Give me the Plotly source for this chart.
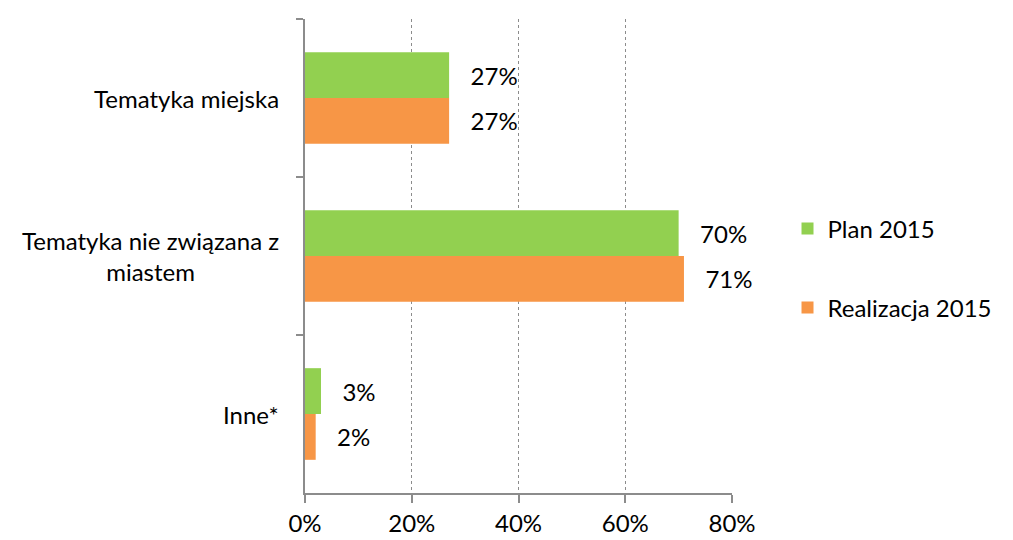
import plotly.graph_objects as go

categories = ["Tematyka miejska", "Tematyka nie związana z<br>miastem", "Inne*"]
plan_2015 = [27, 70, 3]
realizacja_2015 = [27, 71, 2]
x_ticks = [0, 20, 40, 60, 80]
x_tick_labels = ["0%", "20%", "40%", "60%", "80%"]

FONT = "Lato"
FS = 24
GREEN = "#92D050"
ORANGE = "#F79646"

fig = go.Figure()
fig.add_trace(go.Bar(
    y=categories, x=plan_2015, orientation="h", name="Plan 2015",
    marker=dict(color=GREEN, line=dict(width=0)),
    text=[f"{v}%" for v in plan_2015], texttemplate="   %{text}",
    textposition="outside", textfont=dict(family=FONT, size=FS, color="black"),
    cliponaxis=False, legendgroup="a",
))
fig.add_trace(go.Bar(
    y=categories, x=realizacja_2015, orientation="h", name="Realizacja 2015",
    marker=dict(color=ORANGE, line=dict(width=0)),
    text=[f"{v}%" for v in realizacja_2015], texttemplate="   %{text}",
    textposition="outside", textfont=dict(family=FONT, size=FS, color="black"),
    cliponaxis=False, legendgroup="b",
))

for c in categories:
    fig.add_annotation(
        x=0, xref="paper", y=c, yref="y", text=c, showarrow=False,
        xanchor="right", align="center", xshift=-24,
        font=dict(family=FONT, size=FS, color="black"),
    )

fig.update_layout(
    width=1013, height=540,
    margin=dict(l=297, r=289, t=11, b=50),
    paper_bgcolor="white", plot_bgcolor="white",
    barmode="group", bargap=0.42, bargroupgap=0,
    font=dict(family=FONT, size=FS, color="black"),
    showlegend=True,
    legend=dict(x=1.13, y=0.474, xanchor="left", yanchor="middle",
                font=dict(family=FONT, size=FS, color="black"),
                tracegroupgap=45, itemwidth=30, bgcolor="rgba(0,0,0,0)"),
)
fig.update_xaxes(
    range=[0, 80], tickvals=x_ticks, ticktext=x_tick_labels,
    showgrid=True, gridcolor="#8c8c8c", griddash="dot", gridwidth=1,
    showline=True, linecolor="#8c8c8c", linewidth=2,
    ticks="outside", ticklen=8, tickcolor="#8c8c8c", tickwidth=2,
    tickfont=dict(family=FONT, size=FS, color="black"),
    zeroline=False, fixedrange=True,
)
fig.update_yaxes(
    autorange="reversed", showticklabels=False,
    tickson="boundaries", ticks="outside", ticklen=7, tickcolor="#8c8c8c", tickwidth=2,
    showline=True, linecolor="#8c8c8c", linewidth=2,
    showgrid=False, zeroline=False, fixedrange=True,
)

fig.write_html("out.html")
